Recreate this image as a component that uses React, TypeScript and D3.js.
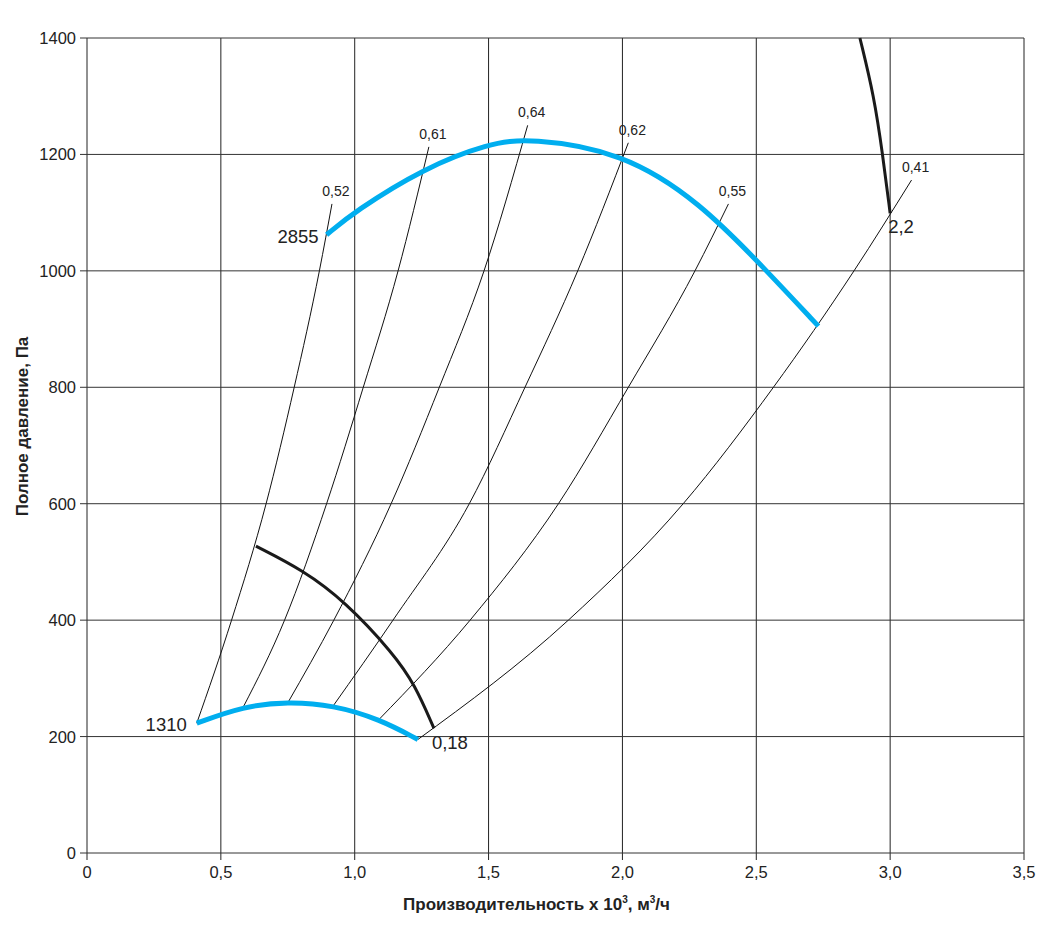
import { useEffect, useRef } from 'react';
import * as d3 from 'd3';

type Pt = [number, number];

// axis ticks
const xTicks = [0, 0.5, 1, 1.5, 2, 2.5, 3, 3.5];
const xTickLabels = ['0', '0,5', '1,0', '1,5', '2,0', '2,5', '3,0', '3,5'];
const yTicks = [0, 200, 400, 600, 800, 1000, 1200, 1400];

// fan curves (Q x 10^3 m3/h, Pa)
const curve2855: Pt[] = [
  [0.895, 1062], [1.0, 1102], [1.256, 1176], [1.5, 1219], [1.655, 1228],
  [2.0, 1204], [2.29, 1118], [2.539, 1000], [2.732, 905],
];
const curve1310: Pt[] = [
  [0.41, 223], [0.584, 252], [0.75, 260], [0.92, 254], [1.092, 230], [1.236, 195],
];

// thick black boundary curves
const powerLow: Pt[] = [
  [0.631, 527], [0.806, 486], [0.964, 432], [1.144, 343], [1.225, 289], [1.296, 214],
];
const powerHigh: Pt[] = [
  [2.887, 1400], [2.94, 1300], [2.972, 1200], [3.0, 1099],
];

// efficiency lines
const eff052: Pt[] = [[0.41, 223], [0.54, 400], [0.669, 600], [0.774, 800], [0.868, 1000], [0.915, 1115]];
const eff061: Pt[] = [[0.584, 251], [0.738, 400], [0.895, 600], [1.032, 800], [1.162, 1000], [1.277, 1213]];
const eff064: Pt[] = [[0.75, 258], [0.922, 400], [1.136, 600], [1.316, 800], [1.483, 1000], [1.646, 1250]];
const eff062: Pt[] = [[0.92, 253], [1.143, 400], [1.428, 600], [1.636, 800], [1.833, 1000], [2.022, 1220]];
const eff055: Pt[] = [[1.092, 230], [1.431, 400], [1.761, 600], [2.022, 800], [2.271, 1000], [2.396, 1115]];
const eff041: Pt[] = [[1.236, 195], [1.798, 400], [2.227, 600], [2.564, 800], [2.865, 1000], [3.08, 1156]];

const effLines = [eff052, eff061, eff064, eff062, eff055, eff041];
const effLabels = ['0,52', '0,61', '0,64', '0,62', '0,55', '0,41'];

const FONT = '"Liberation Sans", Arial, Helvetica, sans-serif';
const BLUE = '#00aeef';

export default function App() {
  const svgRef = useRef<SVGSVGElement>(null);

  useEffect(() => {
    const svg = d3.select(svgRef.current);
    svg.selectAll('*').remove();

    const W = 1052;
    const H = 930;
    const margin = { top: 38, right: 28, bottom: 77, left: 87 };

    const x = d3.scaleLinear().domain([0, 3.5]).range([margin.left, W - margin.right]);
    const y = d3.scaleLinear().domain([0, 1400]).range([H - margin.bottom, margin.top]);

    const g = svg.append('g').style('font-family', FONT);

    // grid
    g.selectAll('.vgrid')
      .data(xTicks)
      .enter()
      .append('line')
      .attr('x1', (d) => x(d))
      .attr('x2', (d) => x(d))
      .attr('y1', y(0) + 7)
      .attr('y2', y(1400))
      .attr('stroke', '#222')
      .attr('stroke-width', 1);

    g.selectAll('.hgrid')
      .data(yTicks)
      .enter()
      .append('line')
      .attr('x1', x(0) - 7)
      .attr('x2', x(3.5))
      .attr('y1', (d) => y(d))
      .attr('y2', (d) => y(d))
      .attr('stroke', '#333')
      .attr('stroke-width', 1);

    // tick labels
    g.selectAll('.xlab')
      .data(xTicks)
      .enter()
      .append('text')
      .attr('x', (d) => x(d))
      .attr('y', y(0) + 25)
      .attr('text-anchor', 'middle')
      .attr('font-size', 16.5)
      .attr('fill', '#222')
      .text((_, i) => xTickLabels[i]);

    g.selectAll('.ylab')
      .data(yTicks)
      .enter()
      .append('text')
      .attr('x', x(0) - 11)
      .attr('y', (d) => y(d))
      .attr('dy', '0.36em')
      .attr('text-anchor', 'end')
      .attr('font-size', 16.5)
      .attr('fill', '#222')
      .text((d) => String(d));

    const lineX = d3
      .line<Pt>()
      .x((d) => x(d[0]))
      .y((d) => y(d[1]))
      .curve(d3.curveMonotoneX);

    // smooth b-spline for the thick curves
    const smooth = d3
      .line<Pt>()
      .x((d) => x(d[0]))
      .y((d) => y(d[1]))
      .curve(d3.curveBasis);

    // efficiency lines
    effLines.forEach((pts) => {
      g.append('path')
        .attr('d', lineX(pts)!)
        .attr('fill', 'none')
        .attr('stroke', '#111')
        .attr('stroke-width', 1);
    });

    effLines.forEach((pts, i) => {
      const top = pts[pts.length - 1];
      g.append('text')
        .attr('x', x(top[0]) + 4)
        .attr('y', y(top[1]) - 8)
        .attr('text-anchor', 'middle')
        .attr('font-size', 14)
        .attr('fill', '#222')
        .text(effLabels[i]);
    });

    // thick black curves
    [powerLow, powerHigh].forEach((pts) => {
      g.append('path')
        .attr('d', smooth(pts)!)
        .attr('fill', 'none')
        .attr('stroke', '#1a1a1a')
        .attr('stroke-width', 3);
    });

    // fan curves
    [curve2855, curve1310].forEach((pts) => {
      g.append('path')
        .attr('d', smooth(pts)!)
        .attr('fill', 'none')
        .attr('stroke', BLUE)
        .attr('stroke-width', 5);
    });

    // curve labels
    const big = (tx: number, ty: number, anchor: string, s: string) =>
      g.append('text')
        .attr('x', tx)
        .attr('y', ty)
        .attr('text-anchor', anchor)
        .attr('font-size', 18.5)
        .attr('fill', '#222')
        .text(s);

    big(x(curve2855[0][0]) - 8, y(curve2855[0][1]) + 8, 'end', '2855');
    big(x(curve1310[0][0]) - 10, y(curve1310[0][1]) + 8, 'end', '1310');
    const lowEnd = curve1310[curve1310.length - 1];
    big(x(lowEnd[0]) + 14, y(lowEnd[1]) + 10, 'start', '0,18');
    const highEnd = powerHigh[powerHigh.length - 1];
    big(x(highEnd[0]) - 2, y(highEnd[1]) + 20, 'start', '2,2');

    // axis titles
    const xt = g.append('text')
      .attr('x', (x(0) + x(3.5)) / 2 - 19)
      .attr('y', H - 20)
      .attr('text-anchor', 'middle')
      .attr('font-size', 17)
      .attr('font-weight', 'bold')
      .attr('fill', '#222');
    xt.append('tspan').text('Производительность х 10');
    xt.append('tspan').attr('dy', -7).attr('font-size', 10).text('3');
    xt.append('tspan').attr('dy', 7).text(', м');
    xt.append('tspan').attr('dy', -7).attr('font-size', 10).text('3');
    xt.append('tspan').attr('dy', 7).text('/ч');

    g.append('text')
      .attr('transform', `translate(28,${(y(0) + y(1400)) / 2 - 19}) rotate(-90)`)
      .attr('text-anchor', 'middle')
      .attr('font-size', 17)
      .attr('font-weight', 'bold')
      .attr('fill', '#222')
      .text('Полное давление, Па');
  }, []);

  return (
    <svg
      ref={svgRef}
      width={1052}
      height={930}
      style={{ position: 'absolute', left: 0, top: 0, background: '#fff' }}
    />
  );
}
